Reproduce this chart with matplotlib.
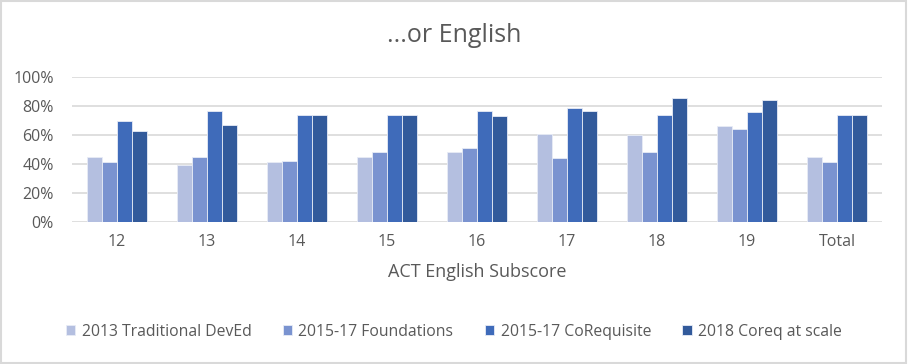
import matplotlib
matplotlib.use("Agg")
import matplotlib.pyplot as plt
import numpy as np
from matplotlib.ticker import PercentFormatter
from matplotlib.patches import Rectangle

categories = ["12", "13", "14", "15", "16", "17", "18", "19", "Total"]
series_names = ["2013 Traditional DevEd", "2015-17 Foundations",
                "2015-17 CoRequisite", "2018 Coreq at scale"]
trad = [45, 39, 41, 45, 48, 61, 60, 66, 45]
found = [41, 45, 42, 48, 51, 44, 48, 64, 41]
coreq = [70, 77, 74, 74, 77, 79, 74, 76, 74]
scale = [63, 67, 74, 74, 73, 77, 86, 84, 74]
series = [trad, found, coreq, scale]
colors = ["#B4BFE0", "#7A93D0", "#3F6BBA", "#325A9B"]

plt.rcParams['font.family'] = ['Open Sans', 'DejaVu Sans']
txt = "#595959"

fig = plt.figure(figsize=(9.08, 3.64), dpi=100)
fig.patches.append(Rectangle((0.001, 0.002), 0.997, 0.996, transform=fig.transFigure,
                             fill=False, edgecolor="#D9D9D9", linewidth=1.5))
ax = fig.add_axes([72/908, 1-221.7/364, 810/908, 144.4/364])

x = np.arange(len(categories))
w = 0.168
for i, (vals, c, n) in enumerate(zip(series, colors, series_names)):
    ax.bar(x + (i - 1.5) * w, vals, width=w, color=c, label=n,
           edgecolor="#E8ECF6", linewidth=0.6, zorder=3)

ax.set_xlim(-0.5, len(categories) - 0.5)
ax.set_ylim(0, 100)
ax.set_yticks(np.arange(0, 101, 20))
ax.yaxis.set_major_formatter(PercentFormatter(decimals=0))
ax.grid(axis='y', color="#D9D9D9", linewidth=1.2, zorder=0)
for s in ax.spines.values():
    s.set_visible(False)
ax.tick_params(axis='both', length=0, colors=txt, labelsize=11.5)
ax.tick_params(axis='y', pad=13)
ax.tick_params(axis='x', pad=9)
ax.set_xticks(x)
ax.set_xticklabels(categories)

ax.set_xlabel("ACT English Subscore", fontsize=13, color=txt, labelpad=9)
fig.text(0.5, 1-35/364, "...or English", ha='center', va='center', fontsize=18, color=txt)

leg = fig.legend(loc='center', bbox_to_anchor=(0.5, 1-332/364), ncol=4, frameon=False,
                 fontsize=11.3, handlelength=0.6, handleheight=0.6, handletextpad=0.4,
                 columnspacing=2.0, labelcolor=txt)

fig.savefig("out.png", dpi=100)
